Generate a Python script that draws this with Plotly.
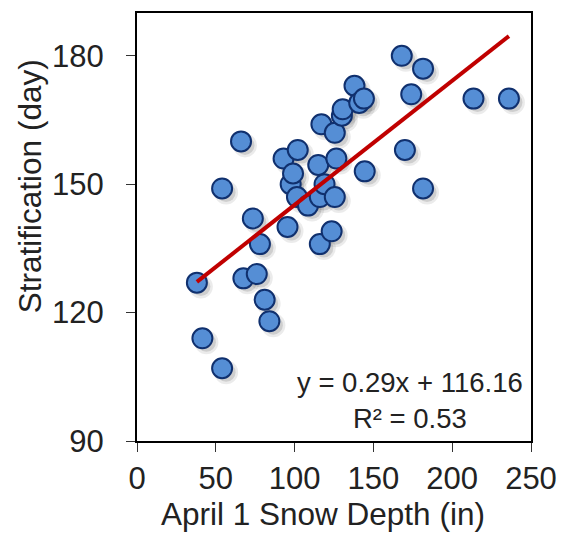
import plotly.graph_objects as go
import numpy as np

# Data
snow_depth = [38, 41.5, 54, 54, 66, 67.5, 73.5, 76, 78, 81, 84, 93, 95.5, 97.5, 99,
              101.5, 102, 108.5, 115, 116, 116, 117, 119, 123.5, 125.5, 125.5, 126.5,
              130, 130.5, 138, 141, 144, 144.5, 168, 170, 174, 181.5, 181.5, 213.5, 236]
stratification = [127, 114, 107, 149, 160, 128, 142, 129, 136, 123, 118, 156, 140, 150,
                  152.5, 147, 158, 145, 154.5, 136, 147, 164, 150, 139, 147, 162, 156,
                  166, 167.5, 173, 169, 170, 153, 180, 158, 171, 177, 149, 170, 170]

slope = 0.29
intercept = 116.16
r_squared = 0.53

x_ticks = [0, 50, 100, 150, 200, 250]
y_ticks = [90, 120, 150, 180]
x_range = [0, 250]
y_range = [90, 190]

x_title = "April 1 Snow Depth (in)"
y_title = "Stratification (day)"

# layout geometry
L, R, T, B = 137, 39, 11, 94
W, H = 570, 535
plot_w = W - L - R
plot_h = H - T - B
dx = 4 * (x_range[1] - x_range[0]) / plot_w
dy = 4 * (y_range[1] - y_range[0]) / plot_h

xs = np.array(snow_depth)
ys = np.array(stratification)

FONT = "Liberation Sans, Arial"

fig = go.Figure()

# soft drop shadows
fig.add_trace(go.Scatter(
    x=xs + dx, y=ys - dy, mode="markers",
    marker=dict(size=24, color="rgba(0,0,0,0.08)", line=dict(width=0)),
    hoverinfo="skip", showlegend=False))
fig.add_trace(go.Scatter(
    x=xs + dx, y=ys - dy, mode="markers",
    marker=dict(size=19, color="rgba(0,0,0,0.12)", line=dict(width=0)),
    hoverinfo="skip", showlegend=False))

fig.add_trace(go.Scatter(
    x=xs, y=ys, mode="markers",
    marker=dict(size=20, color="#558ed5", line=dict(width=2, color="#10306e")),
    showlegend=False))

x_line = np.array([xs.min(), xs.max()])
fig.add_trace(go.Scatter(
    x=x_line, y=slope * x_line + intercept, mode="lines",
    line=dict(color="#c00000", width=4), showlegend=False))

fig.add_annotation(
    x=1, y=0, xref="paper", yref="paper", xanchor="right", yanchor="bottom",
    xshift=-6, yshift=5,
    text=f"y = {slope:.2f}x + {intercept:.2f}<br>R² = {r_squared:.2f}",
    showarrow=False, align="center",
    font=dict(family=FONT, size=27.5, color="#222"))

# axis titles (placed as annotations to match the reference's offsets)
fig.add_annotation(
    x=(323 - L) / plot_w, y=0, xref="paper", yref="paper",
    xanchor="center", yanchor="bottom", yshift=-(H - 1 - (H - B)),
    text=x_title, showarrow=False,
    font=dict(family=FONT, size=31.5, color="#222"))
fig.add_annotation(
    x=0, y=(H - B - 185) / plot_h, xref="paper", yref="paper",
    xanchor="center", yanchor="middle", xshift=-(L - 30), textangle=-90,
    text=y_title, showarrow=False,
    font=dict(family=FONT, size=31.5, color="#222"))

axis_common = dict(
    showline=True, linecolor="black", linewidth=2, mirror=True,
    ticks="outside", ticklen=9, tickwidth=1, tickcolor="#333",
    showgrid=False, zeroline=False,
    tickfont=dict(family=FONT, size=31, color="#222"),
)

fig.update_layout(
    width=W, height=H,
    margin=dict(l=L, r=R, t=T, b=B),
    paper_bgcolor="white", plot_bgcolor="white",
    xaxis=dict(range=x_range, tickvals=x_ticks, ticklabelstandoff=0, **axis_common),
    yaxis=dict(range=y_range, tickvals=y_ticks, ticklabelstandoff=16, **axis_common),
)

fig.write_html("out.html")
